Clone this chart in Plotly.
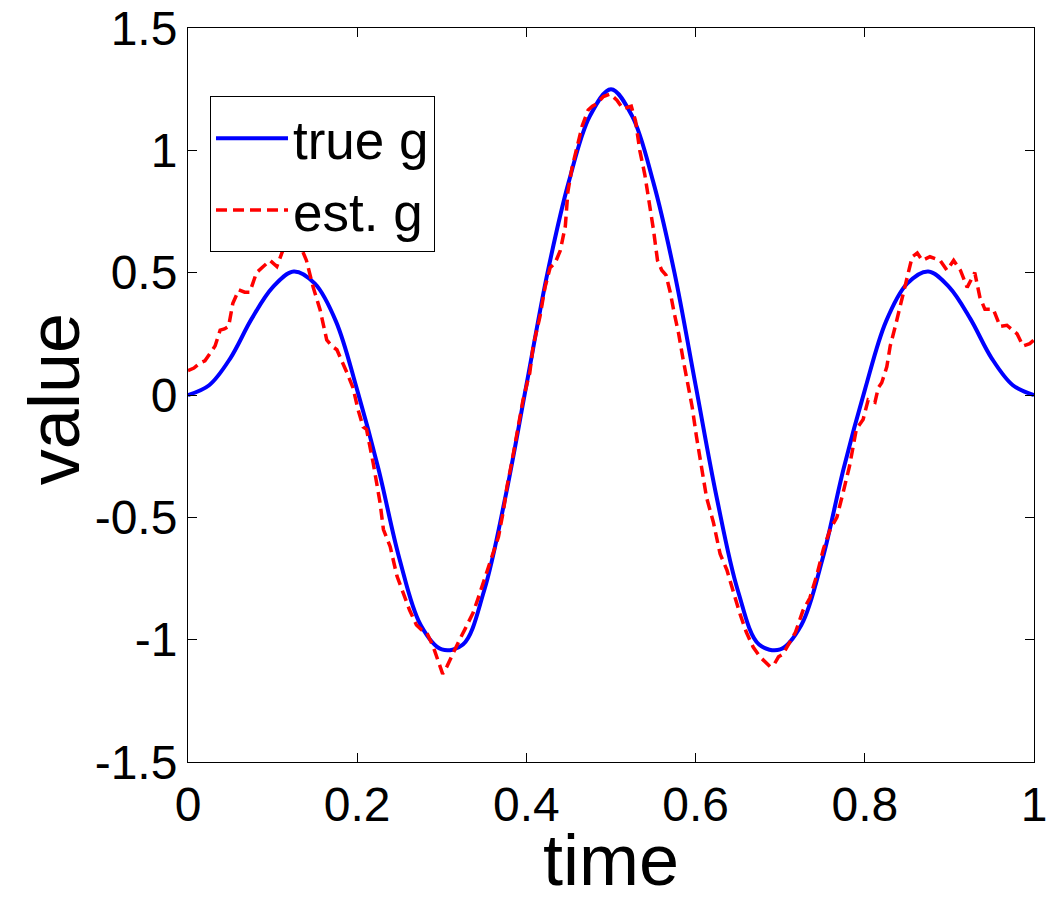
import plotly.graph_objects as go

# ---- data ----
t_true = [0.000, 0.025, 0.050, 0.075, 0.100, 0.125, 0.150, 0.175, 0.200, 0.225,
          0.250, 0.275, 0.300, 0.325, 0.350, 0.375, 0.400, 0.425, 0.450, 0.475,
          0.500, 0.525, 0.550, 0.575, 0.600, 0.625, 0.650, 0.675, 0.700, 0.725,
          0.750, 0.775, 0.800, 0.825, 0.850, 0.875, 0.900, 0.925, 0.950, 0.975, 1.000]
g_true = [0.00, 0.04, 0.15, 0.31, 0.44, 0.505, 0.455, 0.30, 0.02, -0.30,
          -0.67, -0.94, -1.04, -1.02, -0.80, -0.42, 0.04, 0.50, 0.87, 1.14,
          1.25, 1.14, 0.87, 0.50, 0.04, -0.42, -0.80, -1.02, -1.04, -0.94,
          -0.67, -0.30, 0.02, 0.30, 0.455, 0.505, 0.44, 0.31, 0.15, 0.04, 0.00]

t_est = [0.000, 0.007, 0.014, 0.020, 0.026, 0.032, 0.038, 0.043, 0.048, 0.053,
         0.060, 0.067, 0.073, 0.081, 0.089, 0.097, 0.105, 0.112, 0.120, 0.127,
         0.134, 0.140, 0.148, 0.156, 0.164, 0.170, 0.176, 0.182, 0.188, 0.195,
         0.201, 0.207, 0.211, 0.219, 0.227, 0.231, 0.239, 0.247, 0.254, 0.262,
         0.270, 0.276, 0.282, 0.290, 0.296, 0.301, 0.306, 0.310, 0.316, 0.321,
         0.327, 0.333, 0.337, 0.343, 0.349, 0.357, 0.362, 0.367, 0.373, 0.377,
         0.383, 0.389, 0.396, 0.401, 0.404, 0.408, 0.416, 0.422, 0.428, 0.434,
         0.440, 0.446, 0.449, 0.454, 0.458, 0.466, 0.473, 0.478, 0.483, 0.491,
         0.499, 0.507, 0.514, 0.519, 0.524, 0.529, 0.534, 0.540, 0.545, 0.550,
         0.555, 0.560, 0.565, 0.570, 0.575, 0.580, 0.585, 0.590, 0.596, 0.601,
         0.607, 0.613, 0.621, 0.629, 0.637, 0.645, 0.652, 0.660, 0.668, 0.676,
         0.682, 0.688, 0.693, 0.698, 0.703, 0.708, 0.718, 0.727, 0.735, 0.743,
         0.751, 0.759, 0.767, 0.775, 0.782, 0.790, 0.798, 0.804, 0.812, 0.816,
         0.820, 0.826, 0.830, 0.836, 0.844, 0.850, 0.856, 0.862, 0.868, 0.877,
         0.889, 0.897, 0.905, 0.913, 0.921, 0.930, 0.936, 0.942, 0.952, 0.960,
         0.968, 0.980, 0.987, 0.995, 1.000]
g_est = [0.10, 0.11, 0.13, 0.14, 0.17, 0.20, 0.265, 0.27, 0.28, 0.375,
         0.43, 0.42, 0.42, 0.50, 0.525, 0.55, 0.525, 0.59, 0.61, 0.615,
         0.60, 0.55, 0.44, 0.35, 0.225, 0.20, 0.185, 0.14, 0.09, 0.03,
         -0.06, -0.13, -0.14, -0.28, -0.44, -0.55, -0.62, -0.74, -0.81, -0.88,
         -0.94, -0.96, -0.97, -1.03, -1.09, -1.14, -1.11, -1.08, -1.03, -1.00,
         -0.96, -0.92, -0.89, -0.83, -0.77, -0.69, -0.64, -0.58, -0.47, -0.375,
         -0.27, -0.155, -0.02, 0.05, 0.09, 0.20, 0.32, 0.44, 0.52, 0.54,
         0.59, 0.69, 0.83, 0.93, 0.99, 1.10, 1.165, 1.18, 1.19, 1.22,
         1.23, 1.205, 1.17, 1.175, 1.18, 1.12, 1.00, 0.90, 0.80, 0.68,
         0.55, 0.51, 0.49, 0.42, 0.33, 0.25, 0.15, 0.06, -0.05, -0.17,
         -0.29, -0.42, -0.52, -0.65, -0.715, -0.81, -0.89, -0.97, -1.03, -1.07,
         -1.09, -1.11, -1.10, -1.07, -1.06, -1.03, -0.97, -0.88, -0.83, -0.74,
         -0.63, -0.55, -0.50, -0.39, -0.29, -0.14, -0.10, -0.02, -0.03, 0.03,
         0.05, 0.115, 0.20, 0.28, 0.39, 0.47, 0.565, 0.58, 0.55, 0.565,
         0.55, 0.51, 0.55, 0.51, 0.44, 0.50, 0.40, 0.35, 0.35, 0.28,
         0.285, 0.25, 0.20, 0.21, 0.225]

x_ticks = [0, 0.2, 0.4, 0.6, 0.8, 1]
x_ticklabels = ["0", "0.2", "0.4", "0.6", "0.8", "1"]
y_ticks = [-1.5, -1, -0.5, 0, 0.5, 1, 1.5]
y_ticklabels = ["-1.5", "-1", "-0.5", "0", "0.5", "1", "1.5"]

FONT = "Liberation Sans, Arial, sans-serif"

fig = go.Figure()
fig.add_trace(go.Scatter(x=t_true, y=g_true, mode="lines", name="true g",
                         line=dict(color="#0000ff", width=4, shape="spline", smoothing=1.0)))
fig.add_trace(go.Scatter(x=t_est, y=g_est, mode="lines", name="est. g",
                         line=dict(color="#ff0000", width=3.5, dash="11px,6px")))

axis_common = dict(showgrid=False, zeroline=False, showline=True, linecolor="black",
                   linewidth=1, mirror="ticks", ticks="inside", ticklen=9,
                   tickcolor="black", tickwidth=1, automargin=False,
                   tickfont=dict(family=FONT, size=48, color="black"))

fig.update_xaxes(range=[0, 1], tickvals=x_ticks, ticktext=x_ticklabels,
                 title=dict(text="time", font=dict(family=FONT, size=72, color="black"), standoff=3),
                 **axis_common)
fig.update_yaxes(range=[-1.5, 1.5], tickvals=y_ticks, ticktext=y_ticklabels,
                 **axis_common)

fig.add_annotation(text="value", xref="paper", yref="paper", x=-0.159, y=0.495,
                   xanchor="center", yanchor="middle", textangle=-90, showarrow=False,
                   font=dict(family=FONT, size=72, color="black"))

fig.update_layout(
    width=1050, height=900,
    margin=dict(l=188, r=16, t=28, b=138),
    paper_bgcolor="white", plot_bgcolor="white",
    font=dict(family=FONT, color="black"),
    legend=dict(x=0.026, y=0.907, xanchor="left", yanchor="top",
                bgcolor="white", bordercolor="black", borderwidth=1,
                font=dict(family=FONT, size=53, color="black"),
                itemwidth=72, tracegroupgap=0),
)

fig.write_html("out.html")
